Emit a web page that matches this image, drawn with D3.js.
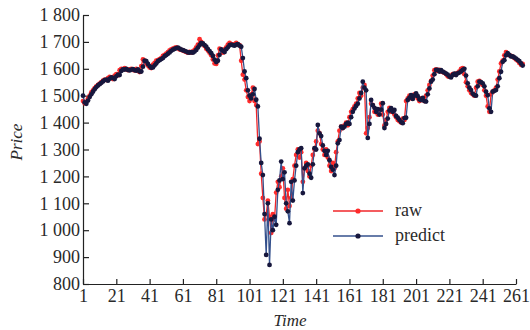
<!DOCTYPE html>
<html lang="en">
<head>
    <meta charset="UTF-8">
    <title>Price raw vs predict</title>
    <script src="https://cdn.jsdelivr.net/npm/d3@7"></script>
    <style>
        body { margin: 0; background: #fff; }
        svg text { font-family: "Liberation Serif", serif; fill: #2a2a2a; }
    </style>
</head>
<body>

    <div id="my_dataviz"></div>

    <script>

    // raw series, one value per time step
    var rawValues = [
        1480, 1472, 1478, 1490, 1500, 1512, 1520, 1528, 1535, 1540,
        1545, 1550, 1556, 1560, 1558, 1565, 1570, 1568, 1562, 1575,
        1580, 1576, 1595, 1600, 1598, 1602, 1597, 1595, 1598, 1600,
        1596, 1594, 1600, 1592, 1588, 1610, 1635, 1630, 1620, 1612,
        1605, 1603, 1615, 1622, 1630, 1632, 1636, 1640, 1648, 1652,
        1656, 1662, 1668, 1672, 1675, 1678, 1680, 1676, 1672, 1670,
        1668, 1665, 1662, 1660, 1663, 1660, 1665, 1670, 1680, 1690,
        1710, 1700, 1692, 1685, 1675, 1668, 1660, 1650, 1635, 1620,
        1618, 1650, 1675, 1670, 1660, 1672, 1680, 1690, 1696, 1692,
        1690, 1692, 1696, 1690, 1688, 1630, 1578, 1560, 1520, 1495,
        1480, 1505, 1530, 1480, 1465, 1320, 1330, 1210, 1120, 1040,
        1060, 1110, 1050, 990, 1060, 1040, 1140, 1180, 1160, 1200,
        1230, 1120, 1080, 1150, 1090, 1120, 1190, 1240, 1280, 1300,
        1270, 1290, 1180, 1230, 1250, 1220, 1200, 1240, 1280, 1300,
        1330, 1370, 1360, 1320, 1300, 1280, 1300, 1270, 1240, 1220,
        1250, 1230, 1290, 1330, 1370, 1385, 1380, 1390, 1400, 1390,
        1420, 1440, 1450, 1460, 1470, 1490, 1510, 1500, 1530, 1540,
        1360, 1380, 1420, 1470, 1465, 1440, 1450, 1430, 1445, 1470,
        1430, 1390, 1410, 1440, 1455, 1440, 1445, 1430, 1420, 1410,
        1405, 1400, 1415, 1410, 1480, 1490, 1500, 1490, 1495, 1505,
        1500, 1490, 1480, 1490, 1485, 1480, 1500, 1520, 1540, 1555,
        1575, 1595, 1598, 1592, 1596, 1590, 1588, 1585, 1580, 1572,
        1570, 1575, 1580, 1578, 1582, 1585, 1590, 1600, 1602, 1580,
        1550, 1535, 1520, 1510, 1505, 1500, 1530, 1552, 1555, 1545,
        1540, 1520, 1500, 1460, 1440, 1505, 1515, 1520, 1530, 1560,
        1590, 1620, 1630, 1650, 1662, 1655, 1650, 1648, 1645, 1640,
        1635, 1630, 1622, 1615, 1618
    ];

    // predicted series
    var predictValues = [
        1500, 1475, 1470, 1482, 1495, 1505, 1515, 1524, 1532, 1538,
        1543, 1548, 1553, 1558, 1560, 1556, 1563, 1568, 1566, 1562,
        1572, 1578, 1577, 1592, 1598, 1597, 1600, 1596, 1594, 1597,
        1599, 1595, 1593, 1598, 1590, 1590, 1608, 1630, 1628, 1618,
        1610, 1604, 1605, 1613, 1620, 1628, 1632, 1636, 1640, 1647,
        1651, 1656, 1661, 1667, 1671, 1674, 1677, 1679, 1675, 1671,
        1669, 1667, 1664, 1661, 1660, 1662, 1660, 1664, 1670, 1679,
        1688, 1696, 1694, 1688, 1682, 1673, 1666, 1658, 1648, 1634,
        1625, 1630, 1652, 1672, 1667, 1662, 1673, 1680, 1688, 1690,
        1688, 1686, 1690, 1692, 1686, 1682, 1640, 1590, 1565, 1520,
        1500, 1490, 1505, 1525, 1485, 1460, 1340, 1250, 1205, 1060,
        908, 1100, 871, 1040, 1000, 1050, 1020, 1150, 1185, 1255,
        1190, 1215, 1100, 1070, 1026, 1180, 1110, 1185, 1240, 1290,
        1300, 1305, 1138, 1230, 1240, 1245, 1210, 1195, 1245, 1305,
        1300, 1391, 1360, 1350, 1315, 1295, 1280, 1295, 1260, 1235,
        1225, 1205, 1240, 1323, 1335, 1385, 1380, 1385, 1395, 1400,
        1395, 1420, 1440, 1452, 1462, 1470, 1490, 1510, 1552, 1530,
        1520, 1343, 1395, 1484, 1465, 1455, 1440, 1450, 1430, 1448,
        1472, 1380, 1395, 1415, 1445, 1454, 1440, 1447, 1425, 1418,
        1410, 1402, 1398, 1417, 1418, 1484, 1492, 1502, 1488, 1500,
        1509, 1498, 1486, 1484, 1492, 1480, 1478, 1505, 1527, 1552,
        1560, 1580, 1596, 1596, 1590, 1595, 1589, 1586, 1582, 1578,
        1571, 1568, 1577, 1582, 1577, 1583, 1586, 1590, 1596, 1600,
        1575, 1546, 1530, 1521, 1508, 1502, 1500, 1535, 1552, 1550,
        1546, 1535, 1515, 1502, 1453, 1440, 1515, 1518, 1521, 1535,
        1565, 1589, 1626, 1632, 1650, 1658, 1652, 1646, 1646, 1642,
        1638, 1633, 1628, 1620, 1612
    ];

    // tick labels
    var xTicks = [1, 21, 41, 61, 81, 101, 121, 141, 161, 181, 201, 221, 241, 261];
    var yTicks = [800, 900, 1000, 1100, 1200, 1300, 1400, 1500, 1600, 1700, 1800];
    var seriesNames = ["raw", "predict"];

    var width = 530, height = 330;
    var margin = {top: 15, right: 14, bottom: 46, left: 83};
    var serif = "'Liberation Serif', serif";

    var svg = d3.select("#my_dataviz")
      .append("svg")
        .attr("width", width)
        .attr("height", height)
        .attr("font-family", serif);

    // scales
    var x = d3.scaleLinear()
        .domain([1, 261])
        .range([margin.left, width - margin.right]);
    var y = d3.scaleLinear()
        .domain([800, 1800])
        .range([height - margin.bottom, margin.top]);

    // "1 800" style numbers
    var fmt = function(d) { return d >= 1000 ? Math.floor(d / 1000) + " " + d3.format("03")(d % 1000) : d; };

    // x axis, ticks pointing inside
    var gx = svg.append("g")
        .attr("transform", "translate(0," + y(800) + ")")
        .call(d3.axisBottom(x).tickValues(xTicks).tickSizeInner(-5).tickSizeOuter(0).tickPadding(4));
    gx.attr("font-family", serif).attr("font-size", 18);
    gx.selectAll("text").attr("dy", "0.75em");

    // y axis
    var gy = svg.append("g")
        .attr("transform", "translate(" + x(1) + ",0)")
        .call(d3.axisLeft(y).tickValues(yTicks).tickFormat(fmt).tickSizeInner(-6).tickSizeOuter(0).tickPadding(3));
    gy.attr("font-family", serif).attr("font-size", 18);

    svg.selectAll(".domain, .tick line").attr("stroke", "#222").attr("stroke-width", 1.2);

    // axis titles
    svg.append("text")
        .attr("transform", "translate(22,142) rotate(-90)")
        .attr("text-anchor", "middle")
        .style("font-size", "17px")
        .style("font-style", "italic")
        .text("Price");
    svg.append("text")
        .attr("x", 290)
        .attr("y", 326)
        .attr("text-anchor", "middle")
        .style("font-size", "17px")
        .style("font-style", "italic")
        .text("Time");

    var series = [
        {name: seriesNames[0], values: rawValues, line: "#f0262a", dot: "#ff2b2b"},
        {name: seriesNames[1], values: predictValues, line: "#34508c", dot: "#17173d"}
    ];

    var line = d3.line()
        .x(function(d, i) { return x(i + 1); })
        .y(function(d) { return y(d); });

    series.forEach(function(s) {
        svg.append("path")
            .datum(s.values)
            .attr("fill", "none")
            .attr("stroke", s.line)
            .attr("stroke-width", 1.3)
            .attr("d", line);
        svg.append("g")
          .selectAll("circle")
            .data(s.values)
            .enter()
            .append("circle")
              .attr("cx", function(d, i) { return x(i + 1); })
              .attr("cy", function(d) { return y(d); })
              .attr("r", 2.4)
              .attr("fill", s.dot);
    });

    // legend
    var legend = svg.append("g")
        .selectAll("g")
        .data(series)
        .enter()
        .append("g")
          .attr("transform", function(d, i) { return "translate(333," + (211 + i * 25) + ")"; });
    legend.append("line")
        .attr("x1", 0).attr("x2", 50)
        .attr("stroke", function(d) { return d.line; })
        .attr("stroke-width", 1.3);
    legend.append("circle")
        .attr("cx", 25).attr("r", 2.6)
        .attr("fill", function(d) { return d.dot; });
    legend.append("text")
        .attr("x", 62)
        .attr("y", 5)
        .style("font-size", "18px")
        .text(function(d) { return d.name; });

    </script>

</body>
</html>
